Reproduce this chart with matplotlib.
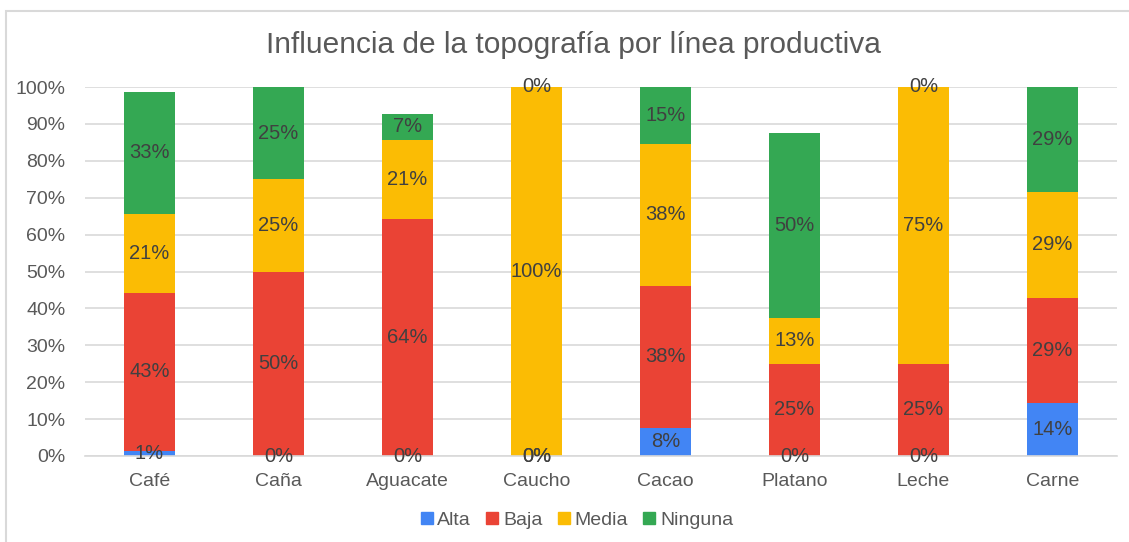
import numpy as np
import matplotlib.pyplot as plt
from matplotlib.patches import Rectangle
from matplotlib.lines import Line2D

categorias = ["Café", "Caña", "Aguacate", "Caucho", "Cacao", "Platano", "Leche", "Carne"]
alta = [1.4, 0, 0, 0, 7.69, 0, 0, 14.3]
baja = [42.9, 50, 64.3, 0, 38.46, 25, 25, 28.6]
media = [21.4, 25, 21.4, 100, 38.46, 12.5, 75, 28.6]
ninguna = [32.9, 25, 7.1, 0, 15.38, 50, 0, 28.6]

series = ["Alta", "Baja", "Media", "Ninguna"]
colores = ["#4285F4", "#EA4335", "#FBBC04", "#34A853"]

plt.rcParams['font.family'] = ['Liberation Sans', 'DejaVu Sans']

fig = plt.figure(figsize=(11.29, 5.42), dpi=100)
# marco gris del grafico
fig.patches.append(Rectangle((6/1129, -0.1), 1.2, 1 - 11/542 + 0.1, transform=fig.transFigure,
                             fill=False, edgecolor="#d9d9d9", linewidth=1.5))
ax = fig.add_axes([85/1129, 1 - 456/542, (1117 - 85)/1129, (456 - 87)/542])

x = np.arange(len(categorias))
base = np.zeros(len(categorias))
for nombre, valores, color in zip(series, [alta, baja, media, ninguna], colores):
    valores = np.array(valores)
    barras = ax.bar(x, valores, 0.4, bottom=base, color=color, label=nombre, zorder=2)
    # redondeo hacia arriba en .5 (12.5 -> 13%)
    ax.bar_label(barras, labels=["%d%%" % int(v + 0.5) for v in valores], label_type="center",
                 fontsize=14.5, color="#404040", zorder=3)
    base = base + valores

ax.set_xlim(-0.5, len(categorias) - 0.5)
ax.set_ylim(0, 100)
ax.set_yticks(np.arange(0, 101, 10))
ax.set_yticklabels(["%d%%" % v for v in range(0, 101, 10)])
ax.set_xticks(x)
ax.set_xticklabels(categorias)
ax.tick_params(axis="both", length=0, labelsize=14, labelcolor="#595959")
ax.tick_params(axis="y", pad=14)
ax.tick_params(axis="x", pad=12)
ax.grid(axis="y", color="#d9d9d9", linewidth=1.2, zorder=0)
for s in ["top", "right", "left"]:
    ax.spines[s].set_visible(False)
ax.spines["bottom"].set_color("#d9d9d9")
ax.spines["bottom"].set_linewidth(1.2)

fig.text(573/1129, 1 - 45/542, "Influencia de la topografía por línea productiva",
         ha="center", va="center", fontsize=21.5, color="#595959")

handles = [Line2D([], [], marker="s", linestyle="none", markersize=8, color=c) for c in colores]
fig.legend(handles, series, loc="center", bbox_to_anchor=(576/1129, 1 - 520/542), ncol=4,
           frameon=False, fontsize=14, labelcolor="#595959", handletextpad=0.15,
           columnspacing=0.7, handlelength=0.8)

fig.savefig("out.png", dpi=100, facecolor="white")
